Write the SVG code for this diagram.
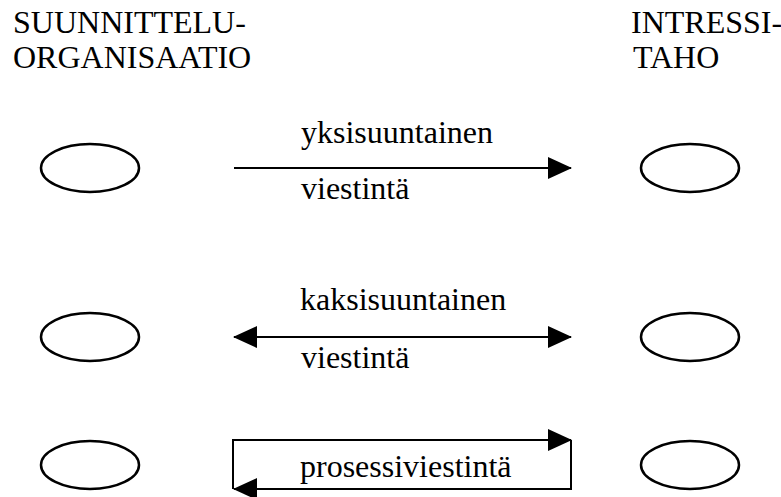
<svg xmlns="http://www.w3.org/2000/svg" width="781" height="497" viewBox="0 0 781 497">
<style>
.head { font-size: 32px; }
.lbl { font-size: 32px; }
.node { fill: none; stroke: #000; stroke-width: 2.5; }
.conn { fill: none; stroke: #000; stroke-width: 2; }
</style>
<defs>
<marker id="ah" markerUnits="userSpaceOnUse" markerWidth="24" markerHeight="24" viewBox="0 0 24 24" refX="23" refY="12" orient="auto-start-reverse">
<path d="M0,1 L24,12 L0,23 Z" fill="#000"/>
</marker>
</defs>
<rect width="781" height="497" fill="#fff"/>
<g font-family="'Liberation Serif', 'DejaVu Serif', 'Times New Roman', Times, serif" fill="#000">
<g id="heading-left">
<text class="head" x="13" y="33">SUUNNITTELU-</text>
<text class="head" x="13" y="68">ORGANISAATIO</text>
</g>
<g id="heading-right">
<text class="head" x="631" y="33">INTRESSI-</text>
<text class="head" x="633" y="68">TAHO</text>
</g>
</g>
<g id="org-1"><ellipse class="node" cx="90" cy="168" rx="49" ry="24"/></g>
<g id="org-2"><ellipse class="node" cx="90" cy="337" rx="49" ry="24"/></g>
<g id="org-3"><ellipse class="node" cx="90" cy="465" rx="49" ry="24"/></g>
<g id="int-1"><ellipse class="node" cx="690" cy="168" rx="49" ry="24"/></g>
<g id="int-2"><ellipse class="node" cx="690" cy="337" rx="49" ry="24"/></g>
<g id="int-3"><ellipse class="node" cx="690" cy="465" rx="49" ry="24"/></g>
<g id="connectors">
<path class="conn" d="M234,168 L571,168" marker-end="url(#ah)"/>
<path class="conn" d="M234,337 L571,337" marker-start="url(#ah)" marker-end="url(#ah)"/>
<path class="conn" d="M233,489 L233,440 L571,440" marker-end="url(#ah)"/>
<path class="conn" d="M571,440 L571,489 L234,489" marker-end="url(#ah)"/>
</g>
<g id="connector-labels" font-family="'Liberation Serif', 'DejaVu Serif', 'Times New Roman', Times, serif" fill="#000">
<text class="lbl" x="301" y="143">yksisuuntainen</text>
<text class="lbl" x="301" y="199">viestintä</text>
<text class="lbl" x="300" y="310">kaksisuuntainen</text>
<text class="lbl" x="301" y="368">viestintä</text>
<text class="lbl" x="300" y="477">prosessiviestintä</text>
</g>
</svg>
